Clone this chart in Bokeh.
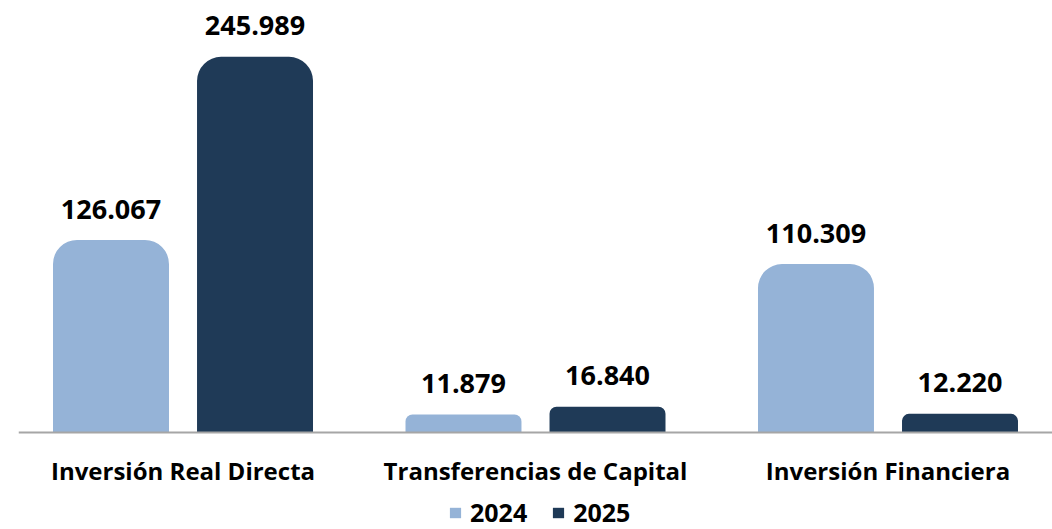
from bokeh.plotting import figure
from bokeh.models import ColumnDataSource, FactorRange, Range1d, Legend, LegendItem, CDSView, BooleanFilter
from bokeh.transform import dodge
from bokeh.core.properties import value
from bokeh.embed import file_html
from bokeh.resources import INLINE

categories = ["Inversión Real Directa", "Transferencias de Capital", "Inversión Financiera"]
years = ["2024", "2025"]
values_2024 = [126.067, 11.879, 110.309]
values_2025 = [245.989, 16.840, 12.220]
labels_2024 = ["126.067", "11.879", "110.309"]
labels_2025 = ["245.989", "16.840", "12.220"]

colors = {"2024": "#95B3D7", "2025": "#1F3A57"}

src = ColumnDataSource(data=dict(
    cat=categories,
    v2024=values_2024, v2025=values_2025,
    l2024=labels_2024, l2025=labels_2025,
))

x_range = FactorRange(factors=categories, factor_padding=0.0,
                      range_padding=-0.0333, range_padding_units="absolute")

p = figure(x_range=x_range, y_range=Range1d(-63.5, 282.9),
           frame_width=1034, frame_height=529,
           output_backend="svg", toolbar_location=None,
           min_border_left=18, min_border_right=0, min_border_top=0, min_border_bottom=0)

off = 0.2043
bw = 0.329
renderers = {}
for yr, col, o in (("2024", "v2024", -off), ("2025", "v2025", off)):
    vals = src.data[col]
    tall = CDSView(filter=BooleanFilter([v > 50 for v in vals]))
    short = CDSView(filter=BooleanFilter([v <= 50 for v in vals]))
    renderers[yr] = p.vbar(x=dodge("cat", o, range=p.x_range), top=col, bottom=0, width=bw,
                           source=src, view=tall, fill_color=colors[yr], line_color=None,
                           border_radius=(24, 24, 0, 0))
    p.vbar(x=dodge("cat", o, range=p.x_range), top=col, bottom=0, width=bw, source=src,
           view=short, fill_color=colors[yr], line_color=None,
           border_radius=(7, 7, 0, 0))

for col, lab, o in (("v2024", "l2024", -off), ("v2025", "l2025", off)):
    p.text(x=dodge("cat", o, range=p.x_range), y=col, text=lab, source=src,
           text_font=value("Open Sans"), text_font_style="bold", text_font_size="27px",
           text_color="#000000", text_align="center", text_baseline="middle", y_offset=-31)

p.xgrid.visible = False
p.ygrid.visible = False
p.yaxis.visible = False
p.outline_line_color = None
p.background_fill_color = "white"
p.border_fill_color = "white"

ax = p.xaxis[0]
ax.fixed_location = 0
ax.axis_line_color = "#A6A6A6"
ax.axis_line_width = 2
ax.major_tick_line_color = None
ax.minor_tick_line_color = None
ax.major_tick_out = 0
ax.major_tick_in = 0
ax.major_label_text_font = "Open Sans"
ax.major_label_text_font_style = "bold"
ax.major_label_text_font_size = "24px"
ax.major_label_text_color = "#000000"
ax.major_label_standoff = 21

legend = Legend(items=[LegendItem(label=years[0], renderers=[renderers["2024"]]),
                       LegendItem(label=years[1], renderers=[renderers["2025"]])],
                orientation="horizontal", location=(430, 0),
                label_text_font="Open Sans", label_text_font_style="bold",
                label_text_font_size="25px", label_text_color="#000000",
                glyph_width=14, glyph_height=13, label_standoff=8, spacing=24,
                padding=0, margin=0, border_line_color=None, background_fill_alpha=0)
p.add_layout(legend, "center")

open("out.html", "w").write(file_html(p, INLINE))
